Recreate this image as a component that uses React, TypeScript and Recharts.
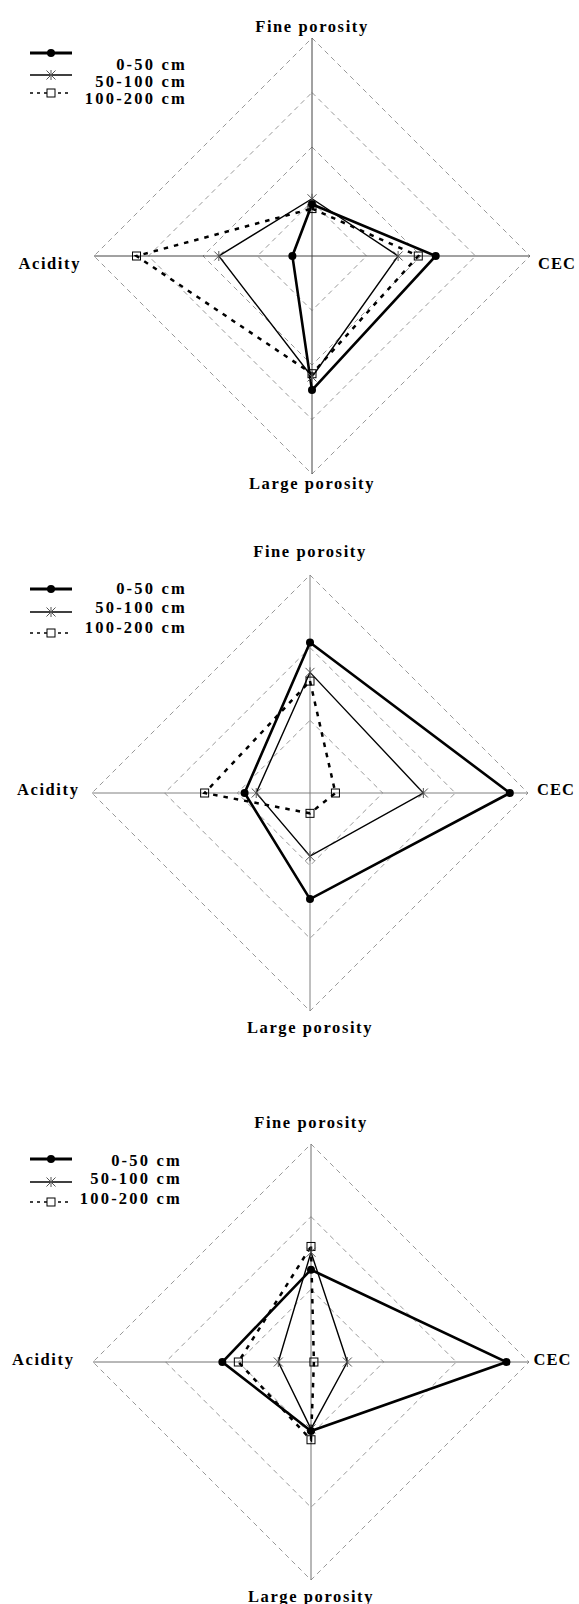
import React from "react";
import {
  RadarChart,
  Radar,
  PolarGrid,
  PolarAngleAxis,
  PolarRadiusAxis,
  Legend,
} from "recharts";

// axes, clockwise from the top
const axes = ["Fine porosity", "CEC", "Large porosity", "Acidity"];
const depths = ["0-50 cm", "50-100 cm", "100-200 cm"];

// panel 1 (scale 0-4)
const p1_0_50 = [0.95, 2.27, 2.46, 0.36];
const p1_50_100 = [1.05, 1.58, 2.22, 1.71];
const p1_100_200 = [0.87, 1.95, 2.16, 3.22];

// panel 2 (scale 0-3)
const p2_0_50 = [2.07, 2.75, 1.46, 0.9];
const p2_50_100 = [1.66, 1.56, 0.87, 0.74];
const p2_100_200 = [1.54, 0.35, 0.28, 1.45];

// panel 3 (scale 0-3)
const p3_0_50 = [1.27, 2.69, 0.95, 1.22];
const p3_50_100 = [1.51, 0.5, 0.92, 0.45];
const p3_100_200 = [1.59, 0.04, 1.07, 1.0];

const FONT = '"Liberation Serif", "Times New Roman", serif';

const toRows = (a, b, c) =>
  axes.map((name, i) => ({ axis: name, d0: a[i], d1: b[i], d2: c[i] }));

const panels = [
  {
    data: toRows(p1_0_50, p1_50_100, p1_100_200),
    max: 4,
    top: 0,
    height: 530,
    cx: 312,
    cy: 256,
    axisColor: "#444",
    off: { top: 3.5, bottom: 1.5, left: 5, right: 0, sideDy: 7 },
    legend: { icons: [53, 75, 93], texts: [64, 81, 98], right: 187 },
  },
  {
    data: toRows(p2_0_50, p2_50_100, p2_100_200),
    max: 3,
    top: 530,
    height: 560,
    cx: 310,
    cy: 263,
    axisColor: "#808080",
    off: { top: 16, bottom: 8, left: 4.5, right: 1, sideDy: -4 },
    legend: { icons: [59, 82, 103], texts: [58, 77, 97], right: 187 },
  },
  {
    data: toRows(p3_0_50, p3_50_100, p3_100_200),
    max: 3,
    top: 1090,
    height: 514,
    cx: 311,
    cy: 272,
    axisColor: "#707070",
    off: { top: 14, bottom: 8, left: 10.5, right: -3.5, sideDy: -3 },
    legend: { icons: [69, 92, 112], texts: [70, 88, 108], right: 182 },
  },
];

const Dot = ({ cx, cy }) => <circle cx={cx} cy={cy} r={4} fill="#000" />;

const Star = ({ cx, cy }) => (
  <g stroke="#555" strokeWidth={1}>
    <line x1={cx} y1={cy - 5} x2={cx} y2={cy + 5} />
    <line x1={cx - 4.5} y1={cy - 4.5} x2={cx + 4.5} y2={cy + 4.5} />
    <line x1={cx - 4.5} y1={cy + 4.5} x2={cx + 4.5} y2={cy - 4.5} />
  </g>
);

const Box = ({ cx, cy }) => (
  <rect x={cx - 4} y={cy - 4} width={8} height={8} fill="none" stroke="#000" strokeWidth={1} />
);

const AngleTick = (props) => {
  const { x, y, payload, off } = props;
  const name = payload.value;
  let tx = x;
  let ty = y;
  let anchor = "middle";
  let spacing = 1.6;
  if (name === "Fine porosity") ty = y - off.top;
  else if (name === "Large porosity") ty = y + off.bottom;
  else if (name === "CEC") {
    tx = x + off.right;
    ty = y + off.sideDy;
    anchor = "start";
    spacing = 1;
  } else {
    tx = x - off.left;
    ty = y + off.sideDy;
    anchor = "end";
  }
  return (
    <text
      x={tx}
      y={ty}
      textAnchor={anchor}
      dominantBaseline="central"
      fontFamily={FONT}
      fontWeight="bold"
      fontSize={16.5}
      letterSpacing={spacing}
      fill="#000"
    >
      {name}
    </text>
  );
};

const LegendBox = ({ legend }) => {
  const { icons, texts, right } = legend;
  return (
    <svg width={200} height={125} style={{ display: "block" }}>
      {/* 0-50 cm */}
      <line x1={30} y1={icons[0]} x2={72} y2={icons[0]} stroke="#000" strokeWidth={3} />
      <Dot cx={51} cy={icons[0]} />
      {/* 50-100 cm */}
      <line x1={30} y1={icons[1]} x2={72} y2={icons[1]} stroke="#000" strokeWidth={1.4} />
      <Star cx={51} cy={icons[1]} />
      {/* 100-200 cm */}
      <line
        x1={30}
        y1={icons[2]}
        x2={72}
        y2={icons[2]}
        stroke="#000"
        strokeWidth={1.5}
        strokeDasharray="3 4"
      />
      <rect x={47} y={icons[2] - 4} width={8} height={8} fill="#fff" stroke="#000" />
      {depths.map((d, i) => (
        <text
          key={d}
          x={right}
          y={texts[i]}
          textAnchor="end"
          dominantBaseline="central"
          fontFamily={FONT}
          fontWeight="bold"
          fontSize={16.5}
          letterSpacing={2.2}
          fill="#000"
        >
          {d}
        </text>
      ))}
    </svg>
  );
};

const Panel = ({ p }) => (
  <div style={{ position: "absolute", left: 0, top: p.top }}>
    <RadarChart
      width={579}
      height={p.height}
      data={p.data}
      cx={p.cx}
      cy={p.cy}
      outerRadius={218}
      startAngle={90}
      endAngle={-270}
    >
      <PolarGrid
        gridType="polygon"
        radialLines={false}
        stroke="#999"
        strokeDasharray="5 4"
      />
      <PolarGrid gridType="polygon" polarRadius={[0]} stroke={p.axisColor} />
      <PolarAngleAxis
        dataKey="axis"
        tickLine={false}
        axisLine={false}
        tick={(t) => <AngleTick {...t} off={p.off} />}
      />
      <PolarRadiusAxis
        domain={[0, p.max]}
        tickCount={p.max + 1}
        tick={false}
        axisLine={false}
      />
      <Radar
        name={depths[2]}
        dataKey="d2"
        stroke="#000"
        strokeWidth={2.5}
        strokeDasharray="4.5 6"
        fill="none"
        fillOpacity={0}
        dot={(d) => <Box key={d.key} cx={d.cx} cy={d.cy} />}
        isAnimationActive={false}
      />
      <Radar
        name={depths[1]}
        dataKey="d1"
        stroke="#000"
        strokeWidth={1.4}
        fill="none"
        fillOpacity={0}
        dot={(d) => <Star key={d.key} cx={d.cx} cy={d.cy} />}
        isAnimationActive={false}
      />
      <Radar
        name={depths[0]}
        dataKey="d0"
        stroke="#000"
        strokeWidth={2.6}
        fill="none"
        fillOpacity={0}
        dot={(d) => <Dot key={d.key} cx={d.cx} cy={d.cy} />}
        isAnimationActive={false}
      />
      <Legend
        content={() => <LegendBox legend={p.legend} />}
        wrapperStyle={{ left: 0, top: 0, width: 200, height: 125 }}
      />
    </RadarChart>
  </div>
);

export default function App() {
  return (
    <div
      style={{
        position: "absolute",
        left: 0,
        top: 0,
        width: 579,
        height: 1604,
        background: "#fff",
        overflow: "hidden",
      }}
    >
      {panels.map((p, i) => (
        <Panel key={i} p={p} />
      ))}
    </div>
  );
}
